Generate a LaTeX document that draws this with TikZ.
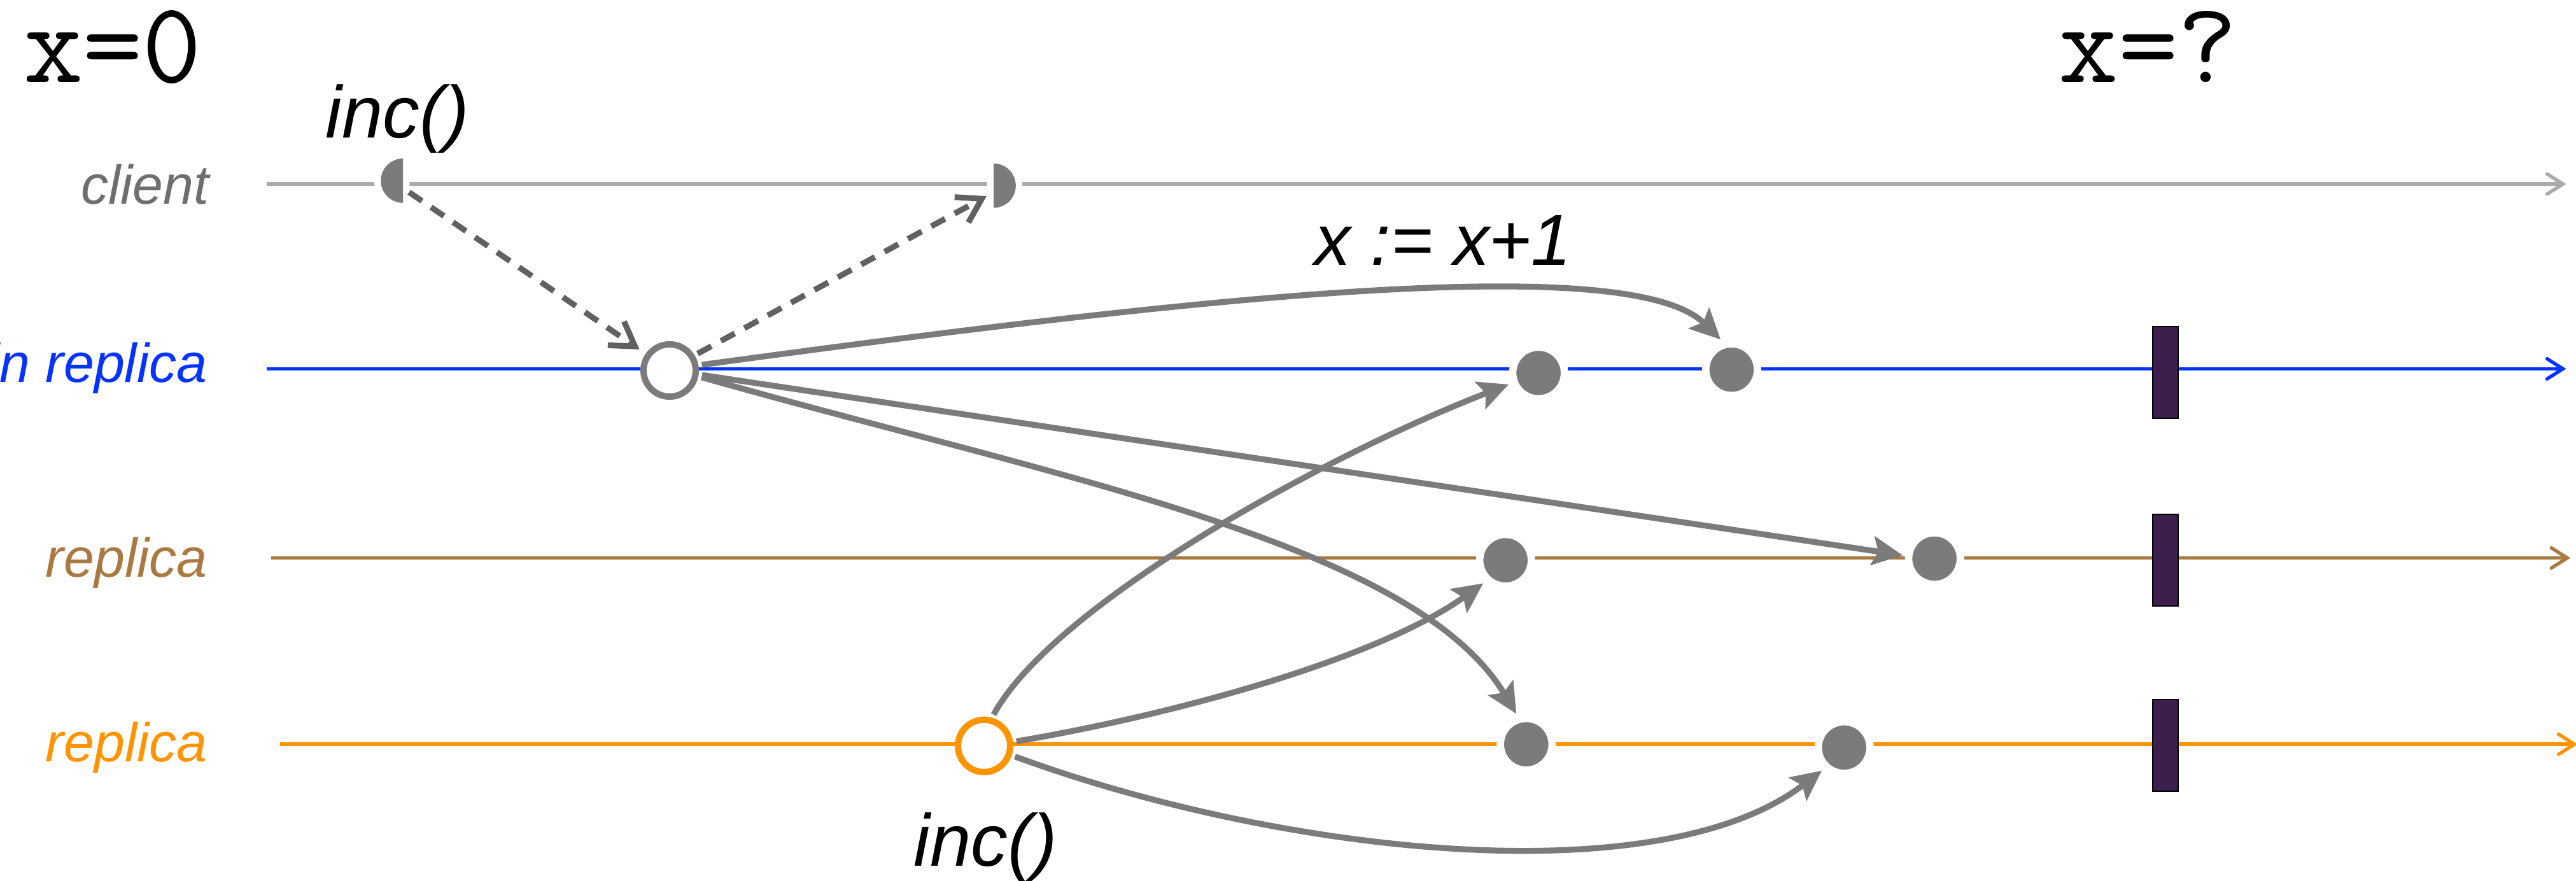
\documentclass[tikz,border=0pt]{standalone}
\usepackage{fontspec}
\setmainfont{Liberation Sans}
\usetikzlibrary{arrows.meta}
\definecolor{clientgray}{HTML}{A9ACA9}
\definecolor{clienttext}{HTML}{6E6E6E}
\definecolor{mainblue}{HTML}{0433FF}
\definecolor{mocha}{HTML}{AA7942}
\definecolor{tangerine}{HTML}{FF9300}
\definecolor{eventgray}{HTML}{7B7B7B}
\definecolor{dashgray}{HTML}{616161}
\definecolor{barpurple}{HTML}{3D1F4D}

\tikzset{
    timeline/.style={line width=0.042cm, -{Straight Barb[length=5.5pt, width=7pt, line cap=round]}},
    lanelabel/.style={anchor=base east, inner sep=0pt, font=\fontsize{19}{19}\selectfont\itshape},
    opevent/.style={circle, minimum size=0.636cm, inner sep=0pt, outer sep=0.08cm, fill=white, line width=0.078cm},
    dotevent/.style={circle, minimum size=0.63cm, inner sep=0pt, outer sep=0.075cm, fill=eventgray, draw=white, line width=0.09cm},
    statebar/.style={rectangle, minimum width=0.31cm, minimum height=1.116cm, inner sep=0pt, fill=barpurple, draw=black, line width=0.016cm},
    msg/.style={draw=eventgray, line width=0.072cm, -{Stealth[length=10.5pt, width=10pt, inset=2pt]}},
    reqmsg/.style={draw=dashgray, line width=0.07cm, dash pattern=on 0.19cm off 0.134cm, -{Straight Barb[length=8pt, width=10pt]}},
    optext/.style={anchor=base west, inner sep=0pt, font=\fontsize{25.5}{26}\selectfont\itshape},
    statetext/.style={anchor=base west, inner sep=0pt, font=\fontsize{40}{40}\selectfont\ttfamily}
}

\begin{document}
\begin{tikzpicture}[x=0.02cm, y=-0.02cm]
    \useasboundingbox (0,0) rectangle (1568,536);
    \clip (0,0) rectangle (1568,536);

    % Lanes
    \node[lanelabel, text=clienttext] (clientlbl) at (127.7,124) {client};
    \node[lanelabel, text=mainblue] (mainlbl) at (126.4,232.5) {main replica};
    \node[lanelabel, text=mocha] (brownlbl) at (126.4,351.2) {replica};
    \node[lanelabel, text=tangerine] (orangelbl) at (126.4,463.5) {replica};

    \draw[timeline, clientgray] (162.3,112) -- (1562,112);
    \draw[timeline, mainblue] (162.3,224.5) -- (1562,224.5);
    \draw[timeline, mocha] (165,339.6) -- (1564.6,339.6);
    \draw[timeline, tangerine] (170.4,453) -- (1569,453);

    % Read points
    \node[statebar] (mbar) at (1318,226.6) {};
    \node[statebar] (bbar) at (1318,341) {};
    \node[statebar] (obar) at (1318,453.7) {};

    % Client events
    \coordinate (req) at (245.3,110);
    \coordinate (ack) at (604.8,113);
    \fill[eventgray, preaction={draw=white, line width=0.16cm}] (req) ++(0,-13.5) arc[start angle=-90, end angle=-270, radius=13.5] -- cycle;
    \fill[eventgray, preaction={draw=white, line width=0.16cm}] (ack) ++(0,-13.5) arc[start angle=-90, end angle=90, radius=13.5] -- cycle;
    \coordinate (reqsrc) at (249,117);
    \coordinate (ackdst) at (600.5,119.4);

    % Replica events
    \node[opevent, draw=eventgray] (mainop) at (407.6,225.5) {};
    \node[opevent, draw=tangerine] (oop) at (599,454) {};
    \node[dotevent] (m1) at (936.5,227) {};
    \node[dotevent] (m2) at (1054,225) {};
    \node[dotevent] (b1) at (916.4,341) {};
    \node[dotevent] (b2) at (1177.5,340) {};
    \node[dotevent] (o1) at (929,453) {};
    \node[dotevent] (o2) at (1122.5,455) {};

    % Messages
    \draw[reqmsg, shorten >=0.05cm] (reqsrc) -- (mainop.145);
    \draw[reqmsg] (mainop.31) -- (ackdst);
    \draw[msg] (mainop.10) .. controls (700,185) and (990,150) .. (m2.110);
    \draw[msg] (mainop.-8) -- (b2.174);
    \draw[msg] (mainop.-12) .. controls (640,290) and (860,330) .. (o1.108);
    \draw[msg] (oop.73) .. controls (640,370) and (800,280) .. (m1.201);
    \draw[msg] (oop.8) .. controls (720,434) and (840,400) .. (b1.226);
    \draw[msg] (oop.-19) .. controls (780,520) and (1010,545) .. (o2.226);

    % Texts
    \node[statetext] (xzero) at (14,50) {x=0};
    \node[statetext] (xunknown) at (1253,50) {x=?};
    \node[optext] (clientinc) at (198,84) {inc()};
    \node[optext] (replicainc) at (556,527) {inc()};
    \node[optext, font=\fontsize{25}{26}\selectfont\itshape] (update) at (800,161.4) {x := x+1};
\end{tikzpicture}
\end{document}
